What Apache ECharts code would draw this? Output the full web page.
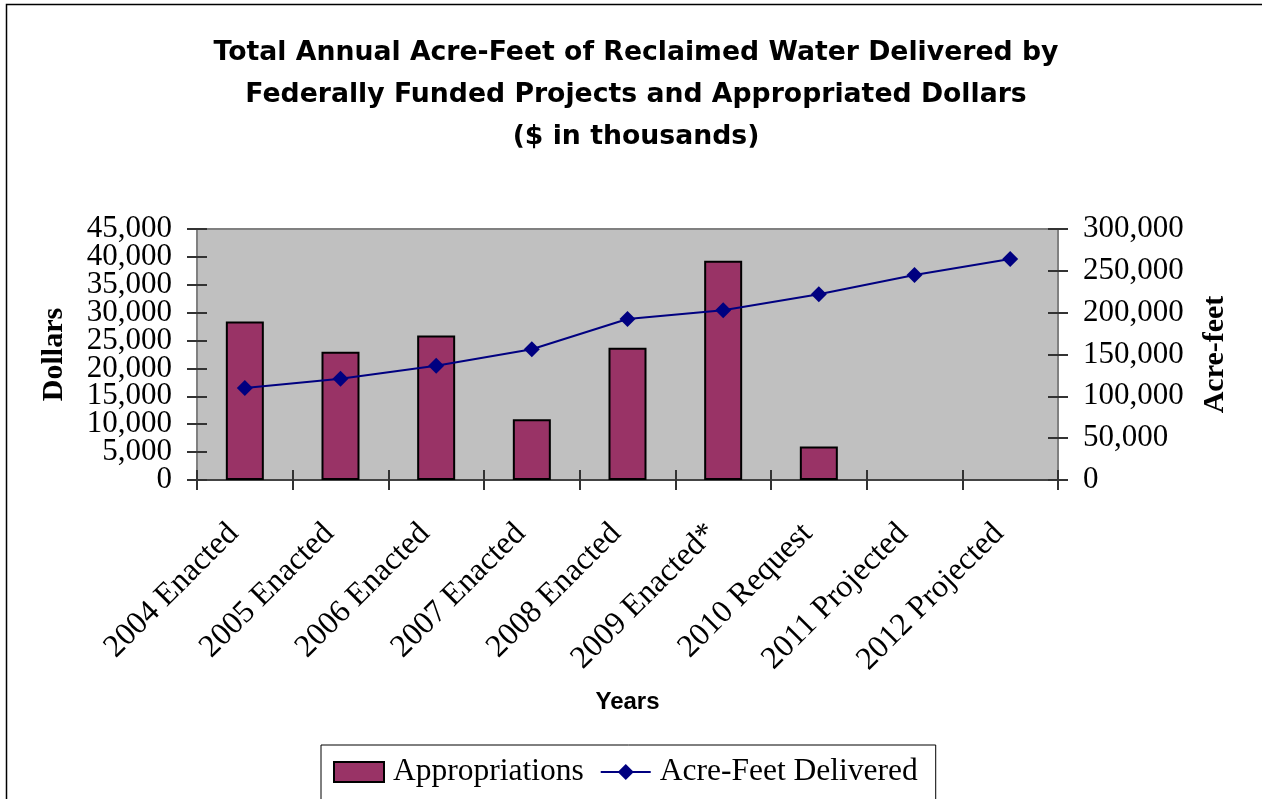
<!DOCTYPE html>
<html lang="en">
  <head>
    <meta charset="UTF-8" />
    <title>Reclaimed Water Delivered</title>
    <script src="https://cdn.jsdelivr.net/npm/echarts@6/dist/echarts.min.js"></script>
    <style>
      body { margin: 0; background: #fff; }
    </style>
  </head>
  <body>
    <div id="main" style="width: 1262px; height: 799px"></div>
    <script type="text/javascript">
      // Chart data
      const categories = [
        "2004 Enacted", "2005 Enacted", "2006 Enacted", "2007 Enacted",
        "2008 Enacted", "2009 Enacted*", "2010 Request", "2011 Projected", "2012 Projected"
      ];
      const appropriations = [28400, 23000, 25900, 10900, 23700, 39300, 6000, null, null];
      const acreFeet = [110000, 121000, 136600, 156200, 192400, 202800, 221900, 245000, 264100];

      // left axis labels are split over two axes so none get auto-hidden
      const dollarTicksA = [0, 10000, 20000, 30000, 40000];
      const dollarTicksB = [5000, 15000, 25000, 35000, 45000];
      const dollarMax = 45000;
      const acreMax = 300000;

      const serif = "'Liberation Serif', 'Times New Roman', serif";
      const fmt = (v) => v.toLocaleString("en-US");
      const tickStyle = { color: "#333", width: 2 };
      const labelStyle = { margin: 25, fontFamily: serif, fontSize: 31, color: "#000", formatter: fmt };

      // axis that only draws tick marks (inner or outer half)
      function tickAxis(pos, max, step, inside) {
        return {
          type: "value",
          position: pos,
          min: 0,
          max: max,
          interval: step,
          axisLine: { show: false },
          axisTick: { show: true, inside: inside, length: 10, lineStyle: tickStyle },
          splitLine: { show: false },
          axisLabel: { show: false }
        };
      }

      let myChart = echarts.init(document.getElementById("main"));

      let options = {
        animation: false,
        backgroundColor: "#fff",
        title: {
          text: "Total Annual Acre-Feet of Reclaimed Water Delivered by\nFederally Funded Projects and Appropriated Dollars\n($ in thousands)",
          left: 631,
          top: 27,
          textAlign: "center",
          textStyle: {
            fontFamily: "'DejaVu Sans', sans-serif",
            fontWeight: "bold",
            fontSize: 26.7,
            lineHeight: 42,
            color: "#000"
          }
        },
        legend: {
          left: 321,
          top: 745,
          itemWidth: 50,
          itemHeight: 20,
          itemGap: 16,
          padding: [11, 18, 14, 12],
          borderColor: "#000",
          borderWidth: 1,
          textStyle: { fontFamily: serif, fontSize: 31.5, color: "#000", padding: [0, 0, 0, 4] },
          data: [{ name: "Appropriations", icon: "rect" }, { name: "Acre-Feet Delivered" }]
        },
        grid: {
          left: 197,
          right: 204,
          top: 229,
          bottom: 319,
          show: true,
          backgroundColor: "#C0C0C0",
          borderColor: "#808080",
          borderWidth: 2
        },
        xAxis: [
          {
            type: "category",
            data: categories,
            name: "Years",
            nameLocation: "middle",
            nameGap: 210,
            nameTextStyle: {
              fontFamily: "'Liberation Sans', Arial, sans-serif",
              fontWeight: "bold",
              fontSize: 24,
              color: "#000"
            },
            axisLine: { lineStyle: { color: "#303030", width: 1.5 } },
            axisTick: { show: true, interval: 0, length: 10, lineStyle: tickStyle },
            axisLabel: {
              rotate: 45,
              margin: 60,
              interval: 0,
              verticalAlign: "bottom",
              fontFamily: serif,
              fontSize: 32,
              color: "#000"
            }
          },
          {
            // inner half of the bottom tick marks
            type: "category",
            data: categories,
            position: "bottom",
            axisLine: { show: false },
            axisTick: { show: true, interval: 0, inside: true, length: 10, lineStyle: tickStyle },
            axisLabel: { show: false }
          }
        ],
        yAxis: [
          {
            type: "value",
            position: "left",
            min: 0,
            max: dollarMax,
            name: "Dollars",
            nameLocation: "middle",
            nameGap: 128,
            nameTextStyle: { fontFamily: serif, fontWeight: "bold", fontSize: 30, color: "#000" },
            axisLine: { show: true, lineStyle: { color: "#808080", width: 1.5 } },
            axisTick: { show: false },
            splitLine: { show: false },
            axisLabel: Object.assign({ customValues: dollarTicksA }, labelStyle)
          },
          {
            type: "value",
            position: "right",
            min: 0,
            max: acreMax,
            interval: 50000,
            name: "Acre-feet",
            nameLocation: "middle",
            nameGap: 142,
            nameTextStyle: { fontFamily: serif, fontWeight: "bold", fontSize: 30, color: "#000" },
            axisLine: { show: true, lineStyle: { color: "#808080", width: 1.5 } },
            axisTick: { show: true, length: 10, lineStyle: tickStyle },
            splitLine: { show: false },
            axisLabel: Object.assign({ showMinLabel: true, showMaxLabel: true }, labelStyle)
          },
          {
            type: "value",
            position: "left",
            min: 0,
            max: dollarMax,
            axisLine: { show: false },
            axisTick: { show: false },
            splitLine: { show: false },
            axisLabel: Object.assign({ customValues: dollarTicksB }, labelStyle)
          },
          tickAxis("left", dollarMax, 5000, true),
          tickAxis("left", dollarMax, 5000, false),
          tickAxis("right", acreMax, 50000, true)
        ],
        series: [
          {
            name: "Appropriations",
            type: "bar",
            yAxisIndex: 0,
            barWidth: 38,
            data: appropriations,
            itemStyle: { color: "#993366", borderColor: "#000", borderWidth: 2 }
          },
          {
            name: "Acre-Feet Delivered",
            type: "line",
            yAxisIndex: 1,
            data: acreFeet,
            symbol: "diamond",
            symbolSize: 16,
            lineStyle: { color: "#000080", width: 2 },
            itemStyle: { color: "#000080" }
          }
        ],
        graphic: [
          {
            type: "polyline",
            shape: { points: [[6.5, 799], [6.5, 4.5], [1262, 4.5]] },
            style: { stroke: "#000", lineWidth: 1.5, fill: null }
          }
        ]
      };

      myChart.setOption(options);
    </script>
  </body>
</html>
